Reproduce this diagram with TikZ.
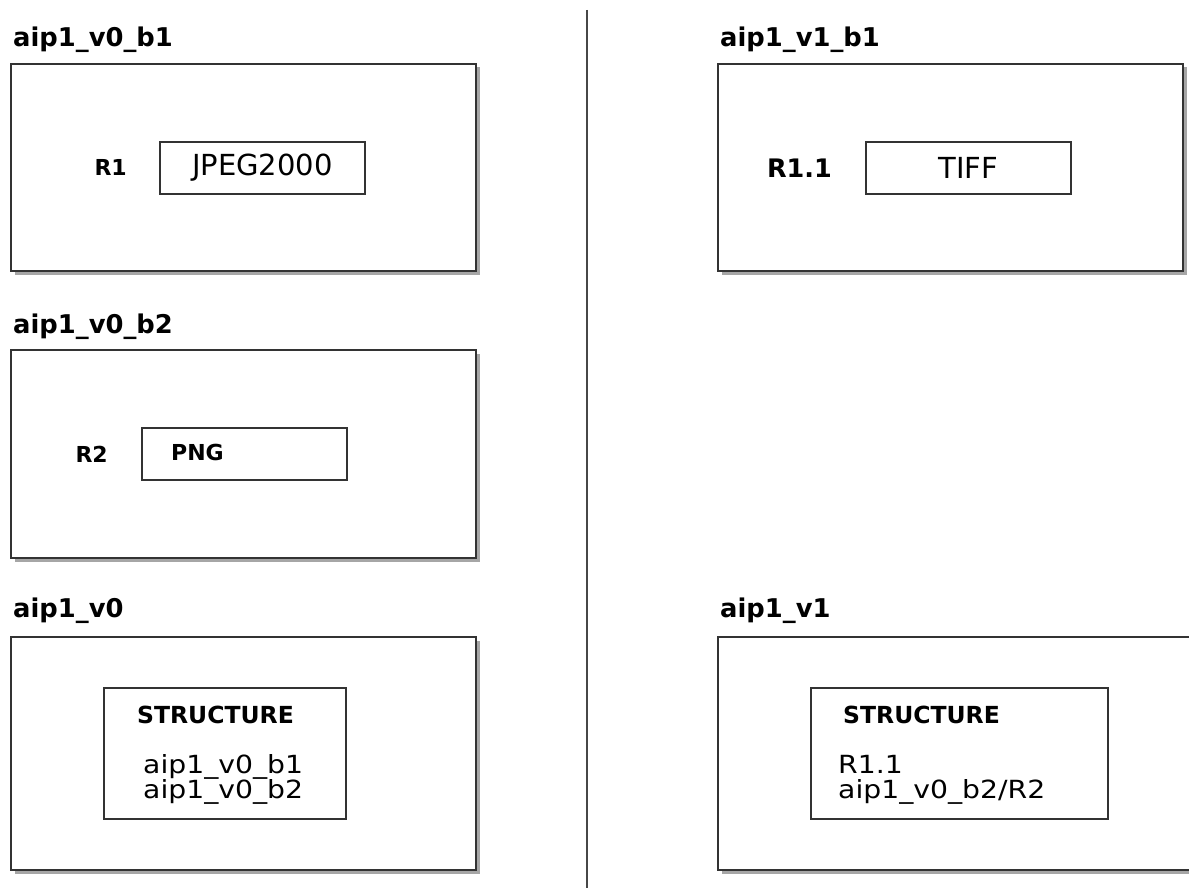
\documentclass[tikz,border=0pt]{standalone}
\usepackage{fontspec}
\setmainfont{DejaVu Sans}
\usetikzlibrary{positioning,shadows}
\definecolor{edge}{HTML}{333333}
\newcommand{\wide}[1]{\scalebox{1.13}[1]{#1}}

\begin{document}
\begin{tikzpicture}[x=1pt,y=-1pt,
        bigbox/.style={draw=edge, line width=2pt, fill=white, anchor=north west, inner sep=0pt,
            drop shadow={shadow xshift=3.5pt, shadow yshift=-3.5pt, fill=black, opacity=.35}},
        fmtbox/.style={draw=edge, line width=1.8pt, anchor=north west, minimum width=205pt,
            minimum height=52pt, inner sep=0pt, font=\fontsize{29}{34}\selectfont},
        strbox/.style={draw=edge, line width=1.8pt, anchor=north west, minimum height=131pt, inner sep=0pt},
        ttl/.style={anchor=base west, inner sep=0pt, xshift=3pt, font=\bfseries\fontsize{25.8}{30}\selectfont},
        rep/.style={inner sep=0pt, font=\bfseries\fontsize{22}{26}\selectfont},
        strhead/.style={anchor=base west, inner sep=0pt, font=\bfseries\fontsize{23.5}{28}\selectfont},
        strline/.style={anchor=base west, inner sep=0pt, font=\fontsize{25}{25}\selectfont}]
            \useasboundingbox (0,0) rectangle (1189,888);
            \fill[white] (0,0) rectangle (1189,888);
            \clip (0,0) rectangle (1189,888);

            % left column: aip1_v0
            \node[bigbox, minimum width=465pt, minimum height=207pt,
                label={[ttl, yshift=16pt]north west:aip1\_v0\_b1}] (b1) at (10,63) {};
            \node[fmtbox] (jp2) at (159,141) {JPEG2000};
            \node[rep, left=32pt of jp2] (r1) {R1};

            \node[bigbox, minimum width=465pt, minimum height=208pt,
                label={[ttl, yshift=16pt]north west:aip1\_v0\_b2}] (b2) at (10,349) {};
            \node[fmtbox] (png) at (141,427) {};
            \node[rep, anchor=base west] (pngtxt) at (171,460) {PNG};
            \node[rep, left=33pt of png] (r2) {R2};

            \node[bigbox, minimum width=465pt, minimum height=233pt,
                label={[ttl, yshift=19pt]north west:aip1\_v0}] (v0) at (10,636) {};
            \node[strbox, minimum width=242pt] (str0) at (103,687) {};
            \node[strhead] (head0) at (137,723) {STRUCTURE};
            \node[strline] (ref0a) at (143,773) {\wide{aip1\_v0\_b1}};
            \node[strline] (ref0b) at (143,798) {\wide{aip1\_v0\_b2}};

            % divider
            \coordinate (divtop) at (587,10);
            \coordinate (divbot) at (587,888);
            \draw[edge!90, line width=2pt] (divtop) -- (divbot);

            % right column: aip1_v1
            \node[bigbox, minimum width=465pt, minimum height=207pt,
                label={[ttl, yshift=16pt]north west:aip1\_v1\_b1}] (b11) at (717,63) {};
            \node[fmtbox] (tiff) at (865,141) {TIFF};
            \node[rep, left=33pt of tiff, font=\bfseries\fontsize{25.5}{30}\selectfont] (r11) {R1.1};

            \node[bigbox, minimum width=490pt, minimum height=233pt,
                label={[ttl, yshift=19pt]north west:aip1\_v1}] (v1) at (717,636) {};
            \node[strbox, minimum width=297pt] (str1) at (810,687) {};
            \node[strhead] (head1) at (843,723) {STRUCTURE};
            \node[strline] (ref1a) at (838,773) {\wide{R1.1}};
            \node[strline] (ref1b) at (838,798) {\wide{aip1\_v0\_b2/R2}};
        \end{tikzpicture}
\end{document}
